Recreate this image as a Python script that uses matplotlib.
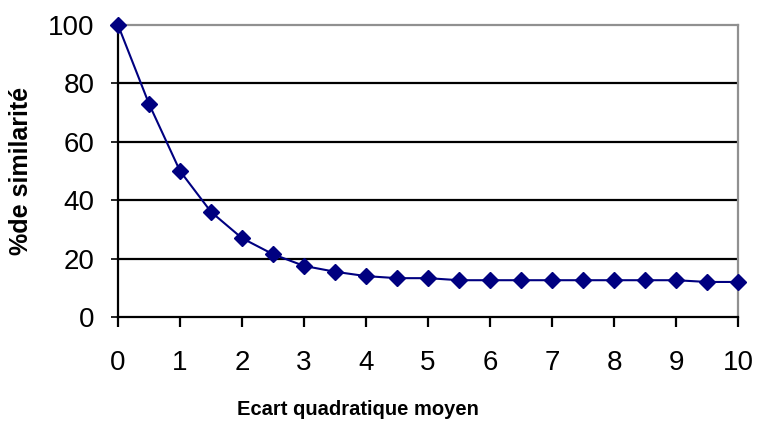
import matplotlib
matplotlib.use("Agg")
import matplotlib.pyplot as plt

# Similarity (%) as a function of RMS deviation
ecart = [0, 0.5, 1, 1.5, 2, 2.5, 3, 3.5, 4, 4.5, 5, 5.5, 6, 6.5, 7, 7.5, 8, 8.5, 9, 9.5, 10]
similarite = [100, 73, 50, 36, 27, 21.5, 17.5, 15.5, 14, 13.3, 13.3, 12.6, 12.6, 12.6,
              12.6, 12.6, 12.6, 12.6, 12.6, 12, 12]

x_ticks = list(range(0, 11))
y_ticks = [0, 20, 40, 60, 80, 100]

plt.rcParams["font.family"] = ["Liberation Sans", "DejaVu Sans"]

fig = plt.figure(figsize=(7.68, 4.33), dpi=100)
ax = fig.add_axes([118 / 768, 1 - 317 / 433, 620 / 768, 292 / 433])

ax.set_xlim(0, 10)
ax.set_ylim(0, 100)
ax.set_xticks(x_ticks)
ax.set_yticks(y_ticks)

for y in y_ticks[1:-1]:
    ax.axhline(y, color="black", lw=1.6, zorder=1)

ax.plot(ecart, similarite, color="#000080", lw=1.5, marker="D", markersize=8,
        markeredgecolor="#000080", clip_on=False, zorder=3)

for side in ("left", "bottom"):
    ax.spines[side].set_color("black")
    ax.spines[side].set_linewidth(1.6)
for side in ("top", "right"):
    ax.spines[side].set_color("#909090")
    ax.spines[side].set_linewidth(1.6)

ax.tick_params(axis="y", direction="out", length=5, width=1.2, pad=12, labelsize=20)
ax.tick_params(axis="x", direction="out", length=7, width=1.6, pad=17, labelsize=20)

ax.set_ylabel("%de similarité", fontsize=18, fontweight="bold", labelpad=11)
ax.set_xlabel("Ecart quadratique moyen", fontsize=14.5, fontweight="bold")
ax.xaxis.set_label_coords(0.387, -0.285)

fig.savefig("out.png", dpi=100)
